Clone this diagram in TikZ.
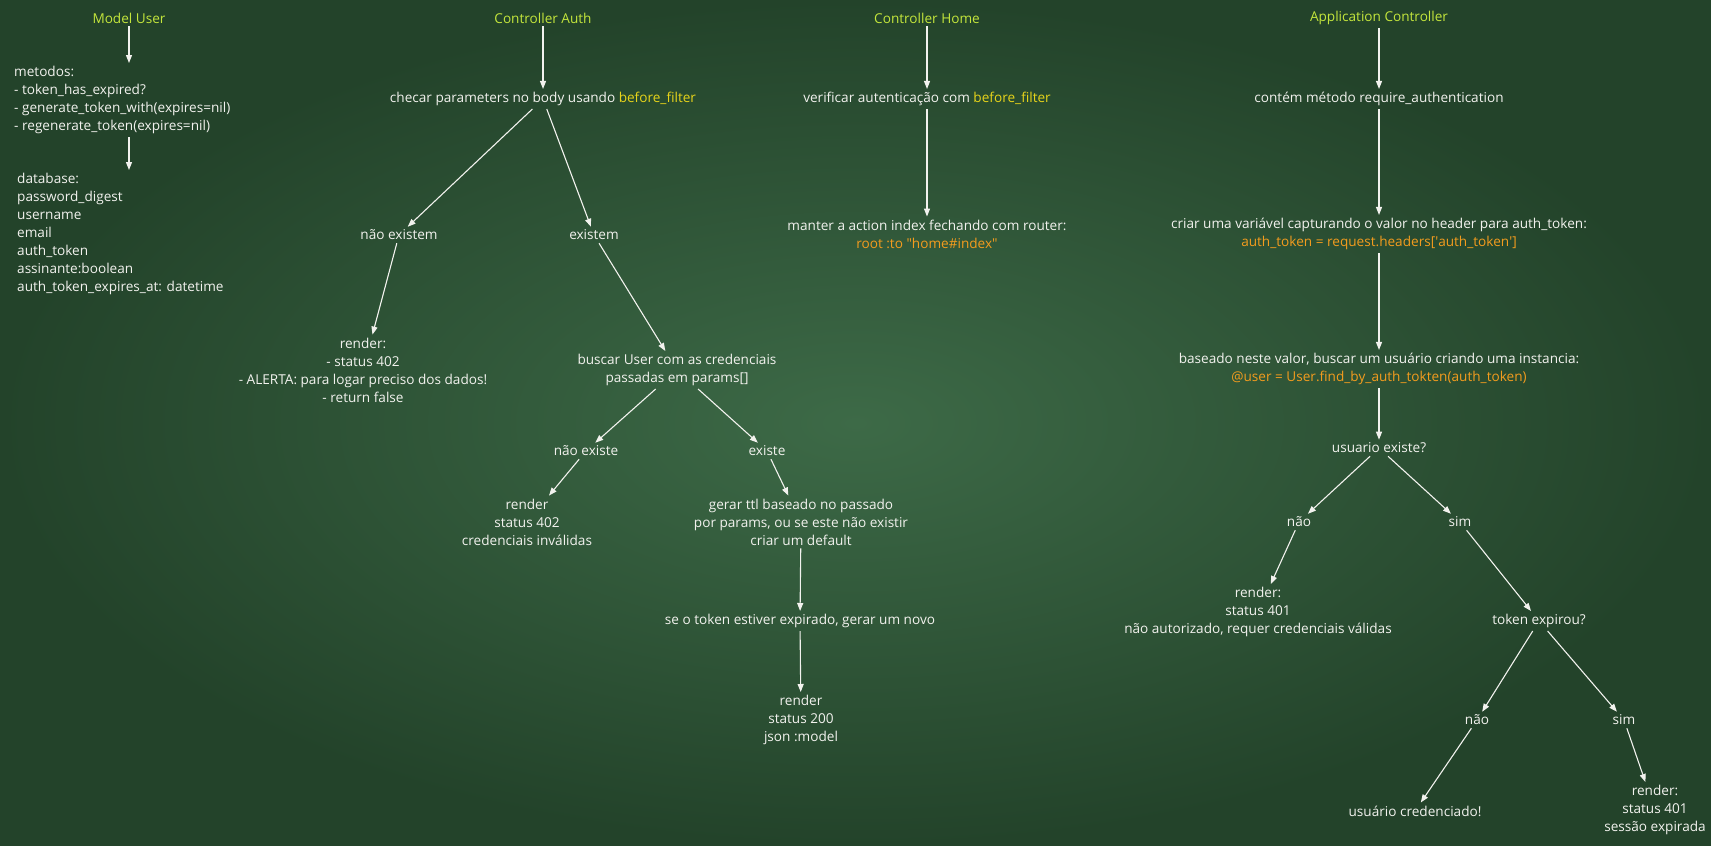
\documentclass[tikz,border=0pt]{standalone}
\usepackage{fontspec}
\setmainfont{Open Sans}
\usepackage{tikz}
\usetikzlibrary{arrows.meta}

\definecolor{boarddark}{HTML}{23432A}
\definecolor{boardlight}{HTML}{3D6A47}
\definecolor{chalkwhite}{HTML}{F2F2EE}
\definecolor{chalklime}{HTML}{C4E63C}
\definecolor{chalkyellow}{HTML}{E8D41A}
\definecolor{chalkorange}{HTML}{F39C1E}

\begin{document}
\begin{tikzpicture}[
  x=1pt,
  y=-1pt,
  >={Triangle[length=8pt,width=6pt]},
  chalk/.style={text=chalkwhite, font=\fontsize{13.6}{18}\selectfont, align=center, inner sep=3pt},
  title/.style={chalk, text=chalklime},
  block/.style={chalk, align=left, anchor=west},
  rel/.style={->, draw=chalkwhite, line width=1.1pt}
]
  \useasboundingbox (0,0) rectangle (1711,846);
  \shade[inner color=boardlight, outer color=boarddark] (0,0) rectangle (1711,846);

  \node[title] (muser) at (129,18) {Model User};
  \node[title] (cauth) at (543,18) {Controller Auth};
  \node[title] (chome) at (927,18) {Controller Home};
  \node[title] (appctl) at (1379,18) {Application Controller};

  \node[block] (metodos) at (11,100) {metodos:\\- token\_has\_expired?\\- generate\_token\_with(expires=nil)\\- regenerate\_token(expires=nil)};
  \node[block] (database) at (14,234) {database:\\password\_digest\\username\\email\\auth\_token\\assinante:boolean\\auth\_token\_expires\_at: datetime};

  \node[chalk] (checar) at (543,99) {checar parameters no body usando \textcolor{chalkyellow}{before\_filter}};
  \node[chalk] (naoexistem) at (399,235) {não existem};
  \node[chalk] (existem) at (594,235) {existem};
  \node[chalk] (renderA) at (363,370) {render:\\- status 402\\- ALERTA: para logar preciso dos dados!\\- return false};
  \node[chalk] (buscar) at (677,370) {buscar User com as credenciais\\passadas em params[]};
  \node[chalk] (naoexiste) at (586,451) {não existe};
  \node[chalk] (existe) at (767,451) {existe};
  \node[chalk] (renderB) at (527,522) {render\\status 402\\credenciais inválidas};
  \node[chalk] (gerar) at (801,522) {gerar ttl baseado no passado\\por params, ou se este não existir\\criar um default};
  \node[chalk] (expirado) at (800,621) {se o token estiver expirado, gerar um novo};
  \node[chalk] (renderC) at (801,720) {render\\status 200\\json :model};

  \node[chalk] (verificar) at (927,99) {verificar autenticação com \textcolor{chalkyellow}{before\_filter}};
  \node[chalk] (manter) at (927,234) {manter a action index fechando com router:\\\textcolor{chalkorange}{root :to \textquotedbl home\#index\textquotedbl}};

  \node[chalk] (contem) at (1379,99) {contém método require\_authentication};
  \node[chalk] (criar) at (1379,234) {criar uma variável capturando o valor no header para auth\_token:\\\textcolor{chalkorange}{auth\_token = request.headers[\textquotesingle auth\_token\textquotesingle]}};
  \node[chalk] (baseado) at (1379,369) {baseado neste valor, buscar um usuário criando uma instancia:\\\textcolor{chalkorange}{@user = User.find\_by\_auth\_tokten(auth\_token)}};
  \node[chalk] (usuexiste) at (1379,448) {usuario existe?};
  \node[chalk] (nao1) at (1299,522) {não};
  \node[chalk] (sim1) at (1460,522) {sim};
  \node[chalk] (render401) at (1258,612) {render:\\status 401\\não autorizado, requer credenciais válidas};
  \node[chalk] (tokenexp) at (1539,621) {token expirou?};
  \node[chalk] (nao2) at (1477,720) {não};
  \node[chalk] (sim2) at (1624,720) {sim};
  \node[chalk] (credenciado) at (1415,811) {usuário credenciado!};
  \node[chalk] (render401b) at (1655,810) {render:\\status 401\\sessão expirada};

  \draw[rel] (muser) -- (muser |- metodos.north);
  \draw[rel] (muser |- metodos.south) -- (muser |- database.north);

  \draw[rel] (cauth) -- (checar);
  \draw[rel] (checar) -- (naoexistem);
  \draw[rel] (checar) -- (existem);
  \draw[rel] (naoexistem) -- (renderA);
  \draw[rel] (existem) -- (buscar);
  \draw[rel] (buscar) -- (naoexiste);
  \draw[rel] (buscar) -- (existe);
  \draw[rel] (naoexiste) -- (renderB);
  \draw[rel] (existe) -- (gerar);
  \draw[rel] (gerar) -- (expirado);
  \draw[rel] (expirado) -- (renderC);

  \draw[rel] (chome) -- (verificar);
  \draw[rel] (verificar) -- (manter);

  \draw[rel] (appctl) -- (contem);
  \draw[rel] (contem) -- (criar);
  \draw[rel] (criar) -- (baseado);
  \draw[rel] (baseado) -- (usuexiste);
  \draw[rel] (usuexiste) -- (nao1);
  \draw[rel] (usuexiste) -- (sim1);
  \draw[rel] (nao1) -- (render401);
  \draw[rel] (sim1) -- (tokenexp);
  \draw[rel] (tokenexp) -- (nao2);
  \draw[rel] (tokenexp) -- (sim2);
  \draw[rel] (nao2) -- (credenciado);
  \draw[rel] (sim2) -- (render401b);
\end{tikzpicture}
\end{document}
